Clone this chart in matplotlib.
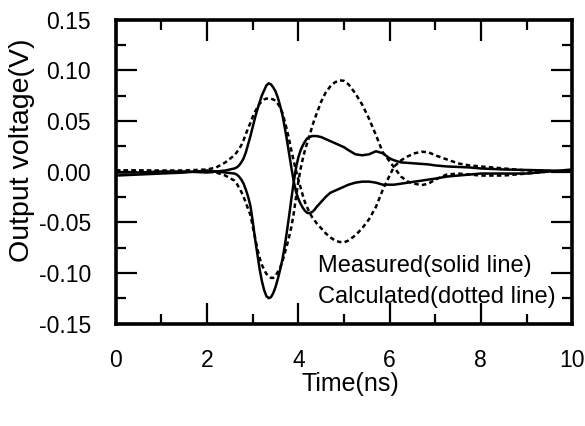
import matplotlib
matplotlib.use("Agg")
import matplotlib.pyplot as plt
from matplotlib.ticker import MultipleLocator, FixedLocator

plt.rcParams['font.family'] = ['Liberation Sans', 'DejaVu Sans']
plt.rcParams['axes.unicode_minus'] = False

# ---- data ----
time_ns = [0.0, 0.5, 1.0, 1.5, 2.0, 2.2, 2.4,
           2.60, 2.65, 2.70, 2.75, 2.80, 2.85, 2.90, 2.95, 3.00, 3.05, 3.10,
           3.15, 3.20, 3.25, 3.30, 3.35, 3.40, 3.45, 3.50, 3.55, 3.60, 3.65,
           3.70, 3.75, 3.80, 3.85, 3.90, 3.95, 4.00, 4.05, 4.10, 4.15, 4.20,
           4.25, 4.30, 4.35, 4.40,
           4.5, 4.6, 4.7, 4.8, 4.9, 5.0, 5.1, 5.25, 5.4, 5.55, 5.7, 5.85,
           6.0, 6.1, 6.25, 6.4, 6.55, 6.7, 6.85, 7.0, 7.25, 7.5, 7.75, 8.0,
           8.5, 9.0, 9.5, 10.0]

measured_pos = [-0.001, -0.001, 0.000, 0.000, -0.001, 0.000, 0.001,
                0.003, 0.004, 0.006, 0.009, 0.013, 0.019, 0.027, 0.035, 0.044,
                0.053, 0.061, 0.068, 0.075, 0.080, 0.085, 0.087, 0.086, 0.083,
                0.079, 0.073, 0.065, 0.056, 0.044, 0.031, 0.017, 0.003, -0.010,
                -0.020, -0.027, -0.032, -0.036, -0.039, -0.041, -0.041, -0.040,
                -0.038, -0.035,
                -0.030, -0.025, -0.021, -0.019, -0.017, -0.015, -0.013, -0.011,
                -0.010, -0.010, -0.011, -0.013, -0.013, -0.013, -0.012, -0.011,
                -0.010, -0.009, -0.008, -0.007, -0.005, -0.004, -0.003, -0.002,
                -0.002, -0.002, 0.000, 0.002]

measured_neg = [-0.004, -0.003, -0.002, -0.001, 0.001, 0.000, -0.001,
                -0.002, -0.003, -0.005, -0.008, -0.012, -0.018, -0.025, -0.034,
                -0.049, -0.066, -0.081, -0.096, -0.108, -0.117, -0.123, -0.125,
                -0.124, -0.120, -0.114, -0.106, -0.097, -0.087, -0.074, -0.059,
                -0.043, -0.026, -0.010, 0.004, 0.014, 0.021, 0.026, 0.030,
                0.033, 0.034, 0.035, 0.035, 0.035,
                0.034, 0.032, 0.030, 0.028, 0.026, 0.024, 0.021, 0.017, 0.016,
                0.017, 0.020, 0.018, 0.013, 0.011, 0.009, 0.0085, 0.008, 0.0075,
                0.007, 0.006, 0.005, 0.0045, 0.004, 0.003, 0.002, 0.0015, 0.001,
                0.000]

calc_pos = [0.001, 0.001, 0.001, 0.001, 0.002, 0.004, 0.009,
            0.016, 0.019, 0.022, 0.026, 0.031, 0.037, 0.043, 0.048, 0.054,
            0.059, 0.063, 0.067, 0.069, 0.071, 0.072, 0.072, 0.072, 0.071,
            0.070, 0.067, 0.063, 0.058, 0.050, 0.041, 0.031, 0.020, 0.010,
            0.001, -0.008, -0.016, -0.024, -0.031, -0.036, -0.041, -0.045,
            -0.048, -0.051,
            -0.056, -0.061, -0.065, -0.068, -0.0695, -0.070, -0.068, -0.063,
            -0.056, -0.047, -0.035, -0.018, -0.004, 0.005, 0.011, 0.015, 0.018,
            0.0195, 0.019, 0.016, 0.012, 0.008, 0.006, 0.005, 0.003, 0.001,
            0.000, 0.000]

calc_neg = [0.001, 0.001, 0.000, 0.000, 0.000, -0.001, -0.004,
            -0.009, -0.012, -0.016, -0.020, -0.025, -0.031, -0.037, -0.043,
            -0.054, -0.065, -0.076, -0.085, -0.092, -0.097, -0.101, -0.103,
            -0.105, -0.105, -0.103, -0.099, -0.095, -0.089, -0.081, -0.073,
            -0.064, -0.054, -0.041, -0.025, -0.010, 0.003, 0.013, 0.022, 0.029,
            0.036, 0.044, 0.051, 0.057,
            0.069, 0.078, 0.084, 0.088, 0.090, 0.0895, 0.086, 0.077, 0.066,
            0.052, 0.036, 0.019, 0.010, 0.004, -0.005, -0.010, -0.012, -0.0135,
            -0.012, -0.008, -0.003, -0.002, -0.003, -0.004, -0.004, -0.002,
            0.000, 0.000]

x_ticks = [0, 2, 4, 6, 8, 10]
x_tick_labels = ['0', '2', '4', '6', '8', '10']
y_ticks = [-0.15, -0.10, -0.05, 0.00, 0.05, 0.10, 0.15]
y_tick_labels = ['-0.15', '-0.10', '-0.05', '0.00', '0.05', '0.10', '0.15']

# ---- figure ----
fig = plt.figure(figsize=(5.85, 4.26), dpi=100)
ax = fig.add_axes([0.198, 0.2406, 0.780, 0.7136])

lw = 1.8
dotted = (0, (1.8, 1.3))
ax.plot(time_ns, measured_pos, color='black', lw=lw)
ax.plot(time_ns, measured_neg, color='black', lw=lw)
ax.plot(time_ns, calc_pos, color='black', lw=lw, linestyle=dotted)
ax.plot(time_ns, calc_neg, color='black', lw=lw, linestyle=dotted)

ax.set_xlim(0, 10)
ax.set_ylim(-0.15, 0.15)

ax.xaxis.set_major_locator(FixedLocator(x_ticks))
ax.set_xticklabels(x_tick_labels)
ax.xaxis.set_minor_locator(MultipleLocator(1))
ax.yaxis.set_major_locator(FixedLocator(y_ticks))
ax.set_yticklabels(y_tick_labels)
ax.yaxis.set_minor_locator(MultipleLocator(0.025))

ax.tick_params(which='both', direction='in', top=True, right=True, width=1.6,
               labelsize=16.5, pad=18)
ax.tick_params(which='major', length=15)
ax.tick_params(which='minor', length=7.5)

for sp in ax.spines.values():
    sp.set_linewidth(2.6)

ax.set_xlabel('Time(ns)', fontsize=18)
ax.set_ylabel('Output voltage(V)', fontsize=20.5)
ax.xaxis.set_label_coords(0.513, -0.199)
ax.xaxis.label.set_verticalalignment('center')
ax.yaxis.set_label_coords(-0.206, 0.571)
ax.yaxis.label.set_verticalalignment('center')

ax.text(0.443, 0.189, 'Measured(solid line)', transform=ax.transAxes,
        fontsize=17, ha='left', va='center')
ax.text(0.443, 0.087, 'Calculated(dotted line)', transform=ax.transAxes,
        fontsize=17, ha='left', va='center')

fig.savefig('out.png', dpi=100)
